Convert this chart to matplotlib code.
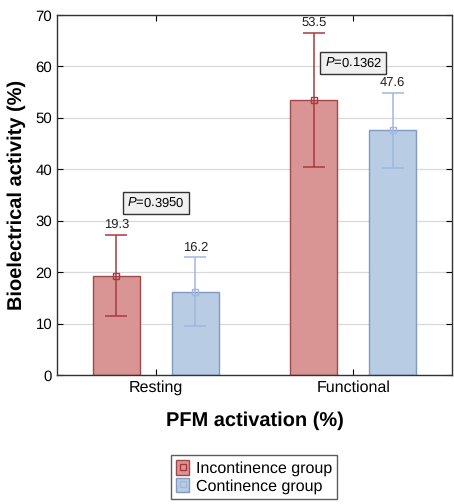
import matplotlib
matplotlib.use("Agg")
import matplotlib.pyplot as plt
from matplotlib.patches import Patch
from matplotlib.lines import Line2D
import numpy as np

plt.rcParams["font.family"] = ["Liberation Sans", "DejaVu Sans"]
plt.rcParams["mathtext.fontset"] = "custom"
plt.rcParams["mathtext.it"] = "Liberation Sans:italic"
plt.rcParams["mathtext.rm"] = "Liberation Sans"
plt.rcParams["text.hinting"] = "no_hinting"
plt.rcParams["text.hinting_factor"] = 1

categories = ["Resting", "Functional"]
groups = ["Incontinence group", "Continence group"]
incontinence = [19.3, 53.5]
continence = [16.2, 47.6]
incontinence_sd = [7.9, 13.0]
continence_sd = [6.7, 7.3]
p_values = ["0.3950", "0.1362"]
p_y = [33.4, 60.7]

fill_colors = ["#d99594", "#b8cce4"]
edge_colors = ["#a0484c", "#7f9bbf"]
err_colors = ["#a83a3f", "#9fb8dc"]

fig = plt.figure(figsize=(4.54, 5.04), dpi=100)
ax = fig.add_axes([57/454, 1-375/504, (452-57)/454, (375-15)/504])

x = np.arange(len(categories))
width = 0.24
offsets = [-0.2, 0.2]
series = [incontinence, continence]
sds = [incontinence_sd, continence_sd]

ax.set_axisbelow(True)
ax.yaxis.grid(True, color="#d9d9d9", linewidth=0.9)

for i in range(2):
    xs = x + offsets[i]
    ax.bar(xs, series[i], width=width, color=fill_colors[i], edgecolor=edge_colors[i], linewidth=1.0, zorder=2)
    ax.errorbar(xs, series[i], yerr=sds[i], fmt="s", markersize=4, markerfacecolor="none",
                markeredgecolor=err_colors[i], ecolor=err_colors[i], elinewidth=1.1, capsize=8, capthick=1.1, zorder=3)
    for xi, v, s in zip(xs, series[i], sds[i]):
        ax.text(xi, v + s + 0.8, f"{v:.1f}", ha="center", va="bottom", fontsize=9, color="#222222")

for xi, p, py in zip(x, p_values, p_y):
    ax.text(xi, py, "$\\mathit{P}$=" + p, ha="center", va="center", fontsize=9,
            bbox=dict(boxstyle="square,pad=0.35", facecolor="#f0f0f0", edgecolor="#333333", linewidth=1.0), zorder=4)

ax.set_xlim(-0.5, 1.5)
ax.set_ylim(0, 70)
ax.set_yticks(np.arange(0, 71, 10))
ax.set_xticks(x)
ax.set_xticklabels(categories, fontsize=11.5)
ax.tick_params(axis="y", labelsize=11, direction="in", right=True, length=4)
ax.tick_params(axis="x", direction="in", top=True, length=4)
for s in ax.spines.values():
    s.set_color("#333333")
    s.set_linewidth(1.0)

ax.set_ylabel("Bioelectrical activity (%)", fontsize=14.5, fontweight="bold", labelpad=7)
ax.set_xlabel("PFM activation (%)", fontsize=14.5, fontweight="bold", labelpad=12)

handles = []
for i in range(2):
    handles.append((Patch(facecolor=fill_colors[i], edgecolor=edge_colors[i]),
                    Line2D([], [], marker="s", linestyle="none", markersize=4.5, markerfacecolor="none", markeredgecolor=err_colors[i])))
fig.legend(handles, groups, loc="center", bbox_to_anchor=(254/454, 1-477/504), fontsize=11.5,
           frameon=True, fancybox=False, edgecolor="#333333", handlelength=0.85, handleheight=1.0,
           handletextpad=0.4, borderpad=0.3, labelspacing=0.1)

fig.savefig("out.png", dpi=100)
